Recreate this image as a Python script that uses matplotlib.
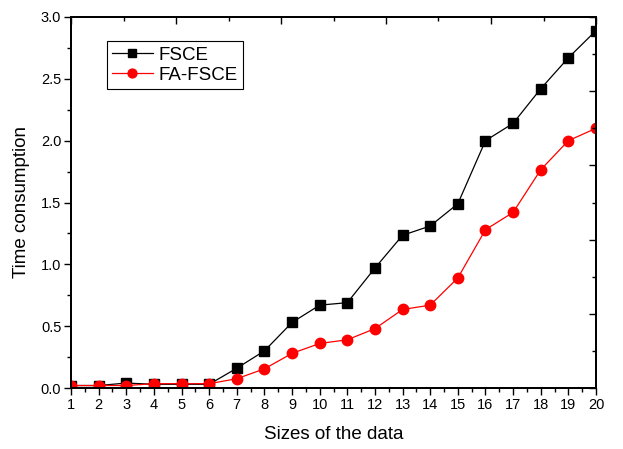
import numpy as np
import matplotlib.pyplot as plt
from matplotlib.ticker import MultipleLocator, FixedLocator, NullFormatter

plt.rcParams['font.family'] = ['Liberation Sans', 'DejaVu Sans']

# data
sizes = list(range(1, 21))

fsce = [0.02, 0.02, 0.04, 0.03, 0.03, 0.03, 0.16, 0.30, 0.53, 0.67,
        0.69, 0.97, 1.235, 1.31, 1.49, 2.00, 2.14, 2.42, 2.67, 2.89]

fa_fsce = [0.02, 0.02, 0.02, 0.035, 0.035, 0.035, 0.075, 0.155, 0.28, 0.36,
           0.39, 0.48, 0.635, 0.67, 0.89, 1.28, 1.42, 1.765, 2.00, 2.10]

x_label = "Sizes of the data"
y_label = "Time consumption"


fig = plt.figure(figsize=(6.23, 4.49), dpi=100)
ax = fig.add_axes([71/623, 1-388/449, 525/623, 371/449])

ax.plot(sizes, fsce, color="black", lw=0.9, marker="s", ms=6.5,
        label="FSCE")
ax.plot(sizes, fa_fsce, color="red", lw=0.9, marker="o", ms=7.5,
        label="FA-FSCE")

ax.set_xlim(1, 20)
ax.set_ylim(0, 3.0)

ax.xaxis.set_major_locator(MultipleLocator(1))
ax.xaxis.set_minor_locator(MultipleLocator(0.5))
ax.yaxis.set_major_locator(MultipleLocator(0.5))
ax.yaxis.set_minor_locator(MultipleLocator(0.25))
ax.yaxis.set_major_formatter(plt.FormatStrFormatter("%.1f"))

ax.tick_params(which="major", direction="out", length=5, width=1,
               labelsize=10.5, pad=2)
ax.tick_params(which="minor", direction="out", length=3, width=1)

# top / right axes (Origin style, own tick spacing, inward)
top = ax.twiny()
top.set_xlim(1, 20)
top.xaxis.set_major_locator(FixedLocator(np.linspace(1, 20, 6)))
top.xaxis.set_minor_locator(FixedLocator(np.linspace(1, 20, 11)[1::2]))
top.xaxis.set_major_formatter(NullFormatter())
top.tick_params(which="major", direction="in", length=5, width=1)
top.tick_params(which="minor", direction="in", length=3, width=1)

right = ax.twinx()
right.set_ylim(0, 3.0)
right.yaxis.set_major_locator(FixedLocator(np.linspace(0, 3.0, 6)))
right.yaxis.set_minor_locator(FixedLocator(np.linspace(0, 3.0, 11)[1::2]))
right.yaxis.set_major_formatter(NullFormatter())
right.tick_params(which="major", direction="in", length=5, width=1)
right.tick_params(which="minor", direction="in", length=3, width=1)

for a in (ax, top, right):
    for s in a.spines.values():
        s.set_linewidth(1.2)

ax.set_xlabel(x_label, fontsize=13.5, labelpad=10)
ax.set_ylabel(y_label, fontsize=13.5, labelpad=8)

leg = ax.legend(loc="upper left", bbox_to_anchor=(0.068, 0.935),
                fontsize=13.5, frameon=True, fancybox=False,
                edgecolor="black", framealpha=1, borderpad=0.3,
                handlelength=2.15, handletextpad=0.3, labelspacing=0.15,
                borderaxespad=0, markerscale=0.85)
leg.get_frame().set_linewidth(0.8)

fig.savefig("out.png", dpi=100)
